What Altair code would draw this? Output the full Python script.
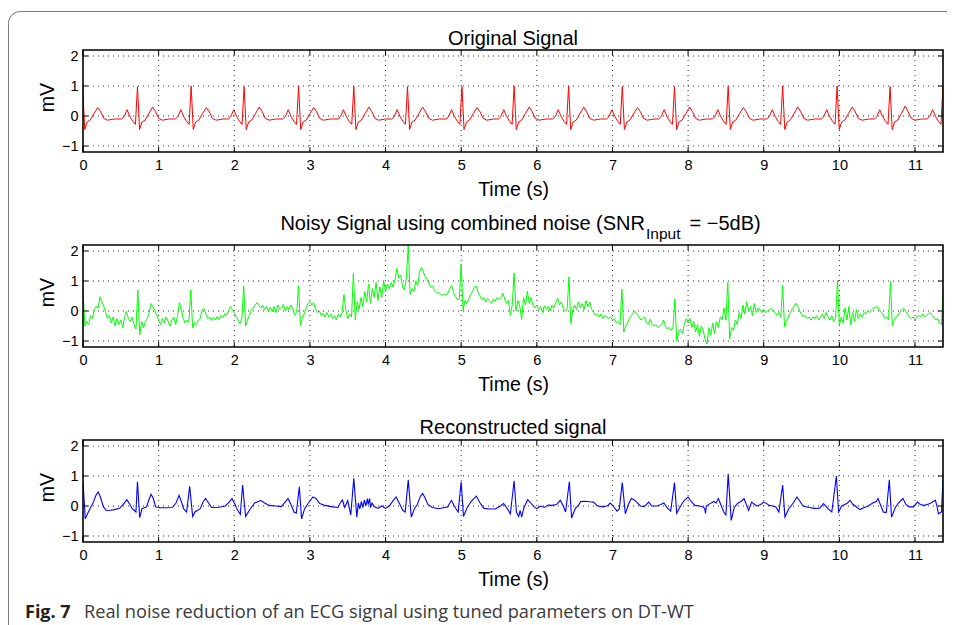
import altair as alt
import pandas as pd

# ---------------- data ----------------
x_ticks = list(range(12))
x_grid = list(range(1, 12))
y_ticks = [-1, 0, 1, 2]
x_max = 11.37

# Original signal: R-peak times, per-beat R and T heights,
# and the beat shape (offsets from R, values) read from one beat.
orig_r_times = [-0.005, 0.72, 1.43, 2.13, 2.85, 3.58, 4.29, 5.01, 5.70, 6.42,
                7.13, 7.82, 8.53, 9.25, 9.97, 10.67, 11.37]
orig_r_amp = [1.00, 0.98, 1.00, 0.98, 1.00, 0.99, 0.98, 0.98, 1.00, 1.00,
              0.98, 0.98, 0.99, 1.00, 1.00, 0.98, 1.00]
orig_t_amp = [0.28, 0.30, 0.28, 0.30, 0.28, 0.30, 0.30, 0.28, 0.30, 0.30,
              0.28, 0.30, 0.28, 0.30, 0.30, 0.33, 0.30]
beat_offsets = [-0.21, -0.175, -0.137, -0.10, -0.06, -0.027, 0.0, 0.028, 0.06,
                0.10, 0.15, 0.20, 0.24, 0.28, 0.33, 0.42]
beat_values = [-0.10, -0.02, 0.21, -0.01, -0.18, -0.28, None, -0.45, -0.20,
               -0.14, 0.08, None, 0.14, -0.08, -0.14, -0.10]
R_IDX, T_IDX = 6, 11

# Noisy signal, read every 0.025 s
noisy_dt = 0.025
noisy_values = [
    0.70, -0.50, -0.35, -0.45, -0.15, -0.25, 0.05, 0.15, 0.10, 0.48, 0.30, 0.15, -0.05, -0.25, -0.15, -0.40, -0.20, -0.50, -0.25, -0.45,
    -0.30, -0.55, -0.20, 0.00, -0.25, -0.35, -0.20, -0.45, -0.60, 0.70, -0.80, -0.35, -0.55, -0.35, -0.25, -0.05, 0.25, 0.15, 0.00, -0.15,
    -0.30, -0.45, -0.25, -0.40, -0.20, -0.35, -0.50, -0.30, -0.20, -0.45, -0.15, 0.28, 0.05, -0.25, -0.40, -0.30, -0.38, 0.70, -0.56, -0.40,
    -0.45, -0.30, -0.25, 0.05, 0.08, -0.10, -0.25, -0.20, -0.32, -0.22, -0.30, -0.18, -0.28, -0.15, -0.22, -0.10, -0.15, 0.00, 0.15, 0.05,
    -0.05, -0.18, -0.30, -0.42, -0.25, 0.83, -0.50, -0.30, -0.15, 0.03, 0.10, 0.20, 0.28, 0.18, 0.10, 0.20, 0.05, 0.15, 0.00, 0.12,
    -0.02, 0.15, -0.05, 0.20, 0.05, 0.10, 0.22, 0.00, 0.15, 0.05, 0.20, 0.05, -0.14, -0.05, 0.83, -0.50, -0.20, -0.10, 0.10, 0.25,
    0.30, 0.20, 0.28, 0.05, -0.05, 0.00, -0.15, -0.10, -0.20, -0.05, -0.20, -0.10, -0.25, -0.15, -0.30, -0.10, -0.20, -0.05, 0.55, 0.05,
    -0.25, -0.10, -0.20, 1.26, -0.30, 0.30, 0.05, 0.45, 0.15, 0.65, 0.30, 0.90, 0.25, 0.75, 0.45, 0.95, 0.35, 0.80, 0.45, 1.00,
    0.65, 0.90, 0.75, 0.95, 0.80, 1.05, 1.42, 1.10, 1.20, 0.80, 0.70, 1.10, 2.19, 0.55, 0.75, 0.65, 1.00, 0.85, 1.30, 1.45,
    1.30, 1.15, 1.05, 0.90, 0.80, 0.82, 0.68, 0.62, 0.60, 0.56, 0.52, 0.56, 0.52, 0.60, 0.75, 0.85, 0.62, 0.48, 0.38, 0.40,
    1.57, 0.02, 0.35, 0.25, 0.40, 0.55, 0.65, 0.80, 0.83, 0.60, 0.50, 0.37, 0.45, 0.30, 0.42, 0.35, 0.25, 0.40, 0.33, 0.45,
    0.38, 0.45, 0.60, 0.40, 0.25, 0.35, -0.14, 0.20, 1.27, 0.00, 0.35, 0.15, -0.27, 0.45, 0.20, 0.66, 0.25, 0.45, 0.20, 0.10,
    0.20, 0.05, 0.15, -0.05, 0.18, 0.05, 0.15, 0.00, 0.20, 0.10, 0.28, 0.43, 0.20, 0.30, 0.10, 0.00, 0.05, 1.14, -0.42, 0.05,
    0.20, 0.05, 0.30, 0.10, 0.25, 0.05, 0.35, 0.15, 0.30, 0.05, -0.05, -0.15, -0.10, -0.20, -0.10, -0.25, -0.15, -0.20, -0.25, -0.20,
    -0.30, -0.25, -0.40, -0.35, -0.45, 0.72, -0.70, -0.50, -0.40, -0.25, -0.15, -0.05, -0.02, -0.10, -0.20, -0.30, -0.25, -0.20, -0.40, -0.45,
    -0.27, -0.45, -0.50, -0.45, -0.55, -0.50, -0.45, -0.30, -0.50, -0.60, -0.55, -0.65, -0.55, 0.40, -1.00, -0.70, -0.60, -0.75, -0.45, -0.25,
    -0.40, -0.25, -0.55, -0.35, -0.70, -0.45, -0.85, -0.50, -0.65, -0.95, -1.10, -0.55, -0.80, -0.40, -0.75, -0.35, -0.55, -0.20, -0.30, 0.10,
    -0.30, 0.95, -0.93, -0.55, -0.65, -0.30, -0.45, -0.05, -0.25, 0.20, -0.10, 0.30, 0.00, 0.15, -0.15, 0.25, -0.05, 0.10, 0.05, -0.05,
    0.05, -0.05, 0.00, 0.05, 0.09, 0.00, -0.05, -0.15, -0.05, -0.20, 0.85, -0.53, -0.35, -0.20, -0.05, 0.05, 0.15, 0.26, 0.15, 0.00,
    -0.10, -0.20, -0.15, -0.25, -0.20, -0.30, -0.20, -0.25, -0.15, -0.30, -0.20, -0.10, -0.25, -0.05, -0.20, -0.30, -0.15, -0.35, -0.25, 1.02,
    -0.48, -0.20, -0.40, 0.10, -0.30, 0.15, -0.45, -0.05, -0.35, 0.05, -0.25, -0.10, -0.20, -0.05, -0.10, 0.00, -0.05, 0.05, 0.10, 0.12,
    0.15, 0.05, -0.05, -0.10, -0.25, -0.20, -0.30, 0.99, -0.50, -0.30, -0.20, -0.15, -0.05, 0.05, 0.09, 0.00, -0.10, -0.20, -0.25, -0.20,
    -0.30, -0.20, -0.15, -0.20, -0.10, -0.20, -0.15, -0.10, -0.05, -0.15, -0.20, -0.30, -0.25, -0.40, -0.45, 0.88,
]

# Reconstructed signal, (time, value) points
recon_t = [0.00, 0.03, 0.06, 0.10, 0.13, 0.17, 0.20, 0.23, 0.27, 0.31, 0.36, 0.42, 0.49, 0.54, 0.58, 0.62, 0.65, 0.68, 0.70, 0.72,
           0.75, 0.78, 0.84, 0.87, 0.90, 0.93, 0.96, 1.02, 1.10, 1.18, 1.23, 1.27, 1.30, 1.33, 1.37, 1.41, 1.45, 1.48, 1.55, 1.59,
           1.62, 1.66, 1.70, 1.80, 1.88, 1.93, 1.97, 2.01, 2.04, 2.08, 2.11, 2.15, 2.21, 2.27, 2.32, 2.35, 2.40, 2.46, 2.55, 2.62,
           2.67, 2.71, 2.75, 2.79, 2.82, 2.86, 2.89, 2.93, 2.98, 3.04, 3.08, 3.13, 3.20, 3.30, 3.37, 3.40, 3.43, 3.46, 3.50, 3.54,
           3.58, 3.62, 3.64, 3.66, 3.68, 3.70, 3.72, 3.74, 3.76, 3.77, 3.79, 3.80, 3.82, 3.85, 3.90, 3.95, 4.00, 4.05, 4.10, 4.14,
           4.18, 4.23, 4.26, 4.30, 4.34, 4.38, 4.42, 4.46, 4.49, 4.52, 4.56, 4.62, 4.70, 4.78, 4.82, 4.87, 4.91, 4.93, 4.96, 5.00,
           5.03, 5.08, 5.13, 5.20, 5.25, 5.30, 5.38, 5.45, 5.52, 5.56, 5.60, 5.65, 5.70, 5.73, 5.76, 5.78, 5.80, 5.83, 5.88, 5.92,
           5.96, 6.00, 6.05, 6.10, 6.15, 6.20, 6.26, 6.31, 6.35, 6.38, 6.43, 6.46, 6.51, 6.55, 6.58, 6.63, 6.70, 6.75, 6.80, 6.88,
           6.94, 6.97, 7.01, 7.06, 7.09, 7.13, 7.17, 7.21, 7.25, 7.29, 7.32, 7.37, 7.42, 7.48, 7.52, 7.59, 7.64, 7.68, 7.72, 7.77,
           7.82, 7.85, 7.90, 7.95, 8.00, 8.04, 8.09, 8.15, 8.20, 8.22, 8.23, 8.24, 8.29, 8.34, 8.37, 8.40, 8.44, 8.47, 8.50, 8.53,
           8.57, 8.61, 8.66, 8.70, 8.74, 8.77, 8.80, 8.84, 8.88, 8.91, 8.96, 9.00, 9.04, 9.07, 9.12, 9.16, 9.20, 9.25, 9.28, 9.33,
           9.39, 9.44, 9.48, 9.52, 9.60, 9.67, 9.74, 9.79, 9.85, 9.90, 9.96, 9.99, 10.03, 10.07, 10.10, 10.14, 10.18, 10.21, 10.27, 10.33,
           10.38, 10.44, 10.49, 10.51, 10.55, 10.58, 10.62, 10.66, 10.69, 10.74, 10.78, 10.84, 10.88, 10.92, 10.98, 11.03, 11.07, 11.12, 11.16, 11.20,
           11.24, 11.27, 11.29, 11.31, 11.35, 11.37]
recon_v = [0.81, -0.43, -0.26, -0.05, 0.08, 0.35, 0.47, 0.30, -0.03, -0.15, -0.14, -0.12, -0.07, 0.08, 0.21, 0.05, -0.09, -0.15, -0.20, 0.81,
           -0.39, -0.09, -0.03, 0.20, 0.39, 0.25, -0.03, -0.06, -0.06, -0.05, 0.10, 0.36, 0.15, -0.09, -0.20, 0.66, -0.35, -0.20, -0.09, 0.15,
           0.25, 0.10, -0.05, -0.04, 0.00, 0.12, 0.25, 0.05, -0.12, -0.28, 0.70, -0.35, -0.10, 0.10, 0.15, 0.19, 0.10, 0.02, 0.00, -0.02,
           0.12, 0.25, 0.05, -0.20, -0.24, 0.64, -0.43, -0.09, 0.10, 0.30, 0.25, 0.08, 0.02, -0.03, -0.05, 0.10, 0.20, -0.05, 0.18, -0.30,
           0.92, -0.37, 0.10, -0.10, 0.15, -0.05, 0.20, 0.00, 0.25, 0.05, 0.25, -0.05, 0.10, -0.02, -0.08, 0.00, -0.08, 0.00, 0.18, 0.30,
           0.10, -0.15, -0.20, 0.87, -0.37, -0.10, 0.05, 0.32, 0.42, 0.28, 0.05, -0.05, -0.09, -0.05, -0.03, 0.19, 0.00, -0.09, -0.20, 0.81,
           -0.35, -0.05, 0.15, 0.33, 0.10, -0.08, -0.10, -0.10, 0.00, 0.08, -0.05, -0.26, 0.84, -0.20, -0.35, -0.15, -0.37, -0.05, 0.21, 0.10,
           -0.02, -0.09, 0.00, -0.05, 0.03, 0.02, 0.05, 0.19, 0.00, -0.20, 0.81, -0.40, -0.08, 0.02, 0.15, 0.16, 0.14, 0.13, 0.00, -0.03,
           0.02, 0.10, 0.00, -0.17, -0.10, 0.78, -0.26, 0.05, 0.25, 0.20, 0.13, 0.00, -0.02, 0.13, 0.00, 0.00, 0.05, 0.10, -0.05, -0.17,
           0.78, -0.24, 0.00, 0.19, 0.30, 0.15, 0.02, 0.00, -0.03, -0.09, -0.25, 0.00, 0.08, 0.15, 0.10, 0.25, 0.00, -0.20, -0.30, 1.07,
           -0.48, -0.05, 0.10, 0.15, 0.25, 0.05, -0.15, 0.13, 0.05, 0.00, 0.05, 0.13, 0.08, 0.02, 0.00, -0.03, -0.20, 0.70, -0.37, -0.10,
           0.10, 0.30, 0.15, 0.00, -0.05, -0.08, -0.07, 0.08, -0.09, -0.20, 1.00, -0.20, 0.00, 0.05, 0.08, 0.19, 0.05, 0.00, -0.12, -0.05,
           0.00, 0.10, 0.15, 0.25, 0.00, -0.20, -0.22, 0.87, -0.37, -0.05, 0.10, 0.25, 0.05, -0.03, -0.03, 0.13, 0.05, 0.02, 0.05, 0.08,
           0.15, 0.19, 0.00, -0.26, -0.20, 0.89]

titles = ["Original Signal", "Noisy Signal using combined noise (SNR", "Input", "= \u22125dB)", "Reconstructed signal"]
caption_bold = "Fig. 7"
caption_text = "Real noise reduction of an ECG signal using tuned parameters on DT-WT"

# ---------------- tables ----------------
orig_t, orig_v = [], []
for rt, ra, ta in zip(orig_r_times, orig_r_amp, orig_t_amp):
    for k, (off, val) in enumerate(zip(beat_offsets, beat_values)):
        if k == R_IDX:
            val = ra
        elif k == T_IDX:
            val = ta
        orig_t.append(round(rt + off, 4))
        orig_v.append(val)
df_orig = pd.DataFrame({"t": orig_t, "v": orig_v})
df_noisy = pd.DataFrame({"t": [round(i * noisy_dt, 4) for i in range(len(noisy_values))], "v": noisy_values})
df_recon = pd.DataFrame({"t": recon_t, "v": recon_v})
df_xt = pd.DataFrame({"t": x_ticks})
df_xg = pd.DataFrame({"t": x_grid})
df_yt = pd.DataFrame({"v": y_ticks})
dummy = pd.DataFrame({"d": [0]})

# ---------------- layout / styling ----------------
W, H = 860, 102          # one panel's plot area
HG = 492                 # whole drawing area (three panels)
TOPS = [0, 195, 390]     # panel tops inside the drawing area
FONT = "Liberation Sans"
FRAME = "#7a7a7a"
GRID = "#333333"
xscale = alt.Scale(domain=[0, x_max], nice=False, zero=False)


def text(s, x, y, size=20, align="center", weight="normal", font=FONT, color="black"):
    return alt.Chart(dummy).mark_text(text=s, font=font, fontSize=size, align=align,
                                      baseline="alphabetic", fontWeight=weight,
                                      color=color).encode(x=alt.value(x), y=alt.value(y))


def panel(df, color, sw, top, extras):
    bottom = top + H
    yscale = alt.Scale(domain=[-1.2, 2.2], nice=False, zero=False, range=[bottom, top])
    X = alt.X("t:Q", scale=xscale,
              axis=alt.Axis(values=x_ticks, grid=False, ticks=False, domain=False, orient="bottom",
                            offset=bottom - HG, labelPadding=6, labelFlush=False,
                            labelOverlap=False, title="Time (s)", titleY=43, titleX=W / 2,
                            titleBaseline="alphabetic", titleAlign="center"))
    Y = alt.Y("v:Q", scale=yscale,
              axis=alt.Axis(values=y_ticks, grid=False, ticks=False, domain=False, orient="left",
                            labelPadding=5, labelFlush=False, labelOverlap=False,
                            title="mV", titleX=-30, titleY=top + 47, titleAngle=270,
                            titleAlign="center", titleBaseline="alphabetic"))
    gx = alt.Chart(df_xg).mark_rule(color=GRID, strokeWidth=1, strokeDash=[1, 4]).encode(
        x=X, y=alt.value(top), y2=alt.value(bottom))
    gy = alt.Chart(df_yt).mark_rule(color=GRID, strokeWidth=1, strokeDash=[1, 4]).encode(
        y=Y, x=alt.value(0), x2=alt.value(W))
    line = alt.Chart(df).mark_line(color=color, strokeWidth=sw, clip=True).encode(x=X, y=Y)
    tb = alt.Chart(df_xt).mark_rule(color="black", strokeWidth=1).encode(
        x=X, y=alt.value(bottom), y2=alt.value(bottom - 5))
    tt = alt.Chart(df_xt).mark_rule(color="black", strokeWidth=1).encode(
        x=X, y=alt.value(top), y2=alt.value(top + 5))
    tl = alt.Chart(df_yt).mark_rule(color="black", strokeWidth=1).encode(
        y=Y, x=alt.value(0), x2=alt.value(5))
    tr = alt.Chart(df_yt).mark_rule(color="black", strokeWidth=1).encode(
        y=Y, x=alt.value(W), x2=alt.value(W - 5))
    box = alt.Chart(dummy).mark_rect(filled=False, stroke="black", strokeWidth=1.6).encode(
        x=alt.value(0), x2=alt.value(W), y=alt.value(top), y2=alt.value(bottom))
    return alt.layer(gx, gy, line, tb, tt, tl, tr, box, *extras)


p1 = panel(df_orig, "#ff0000", 1, TOPS[0], [text(titles[0], W / 2, TOPS[0] - 5.5)])
p2 = panel(df_noisy, "#00ff00", 1, TOPS[1],
           [text(titles[1], 562, TOPS[1] - 15.5, align="right"),
            text(titles[2], 563, TOPS[1] - 6.5, size=15.5, align="left"),
            text(titles[3], 606.5, TOPS[1] - 15.5, align="left")])
p3 = panel(df_recon, "#0000ff", 1.1, TOPS[2], [text(titles[4], W / 2, TOPS[2] - 6.3)])

# figure frame (rounded top-left corner) and caption
frame_left = alt.Chart(dummy).mark_rule(color=FRAME, strokeWidth=1).encode(
    x=alt.value(-74.5), y=alt.value(-26.5), y2=alt.value(576.5))
frame_top = alt.Chart(dummy).mark_rule(color=FRAME, strokeWidth=1).encode(
    x=alt.value(-62.5), x2=alt.value(864), y=alt.value(-38.5))
corner = alt.Chart(dummy).mark_arc(theta=4.712389, theta2=6.283185, innerRadius=11.5,
                                   outerRadius=12.5, color=FRAME).encode(
    x=alt.value(-62.5), y=alt.value(-26.5))
cap1 = text(caption_bold, -58, 567.5, size=18, align="left", weight="bold",
            font="Open Sans", color="#231f20")
cap2 = text(caption_text, 1, 567.5, size=18.2, align="left", font="Open Sans", color="#3a3a3a")

chart = alt.layer(p1, p2, p3, frame_left, frame_top, corner, cap1, cap2).resolve_scale(
    x="independent", y="independent"
).resolve_axis(
    x="independent", y="independent"
).properties(
    width=W, height=HG,
    padding={"left": 0, "top": 3, "right": 0, "bottom": 0}
).configure_view(strokeWidth=0).configure_axis(
    labelFont=FONT, labelFontSize=14.5, labelColor="black",
    titleFont=FONT, titleFontSize=19.5, titleFontWeight="normal", titleColor="black"
)

chart.save("out.html", embed_options={"renderer": "svg", "actions": False})
